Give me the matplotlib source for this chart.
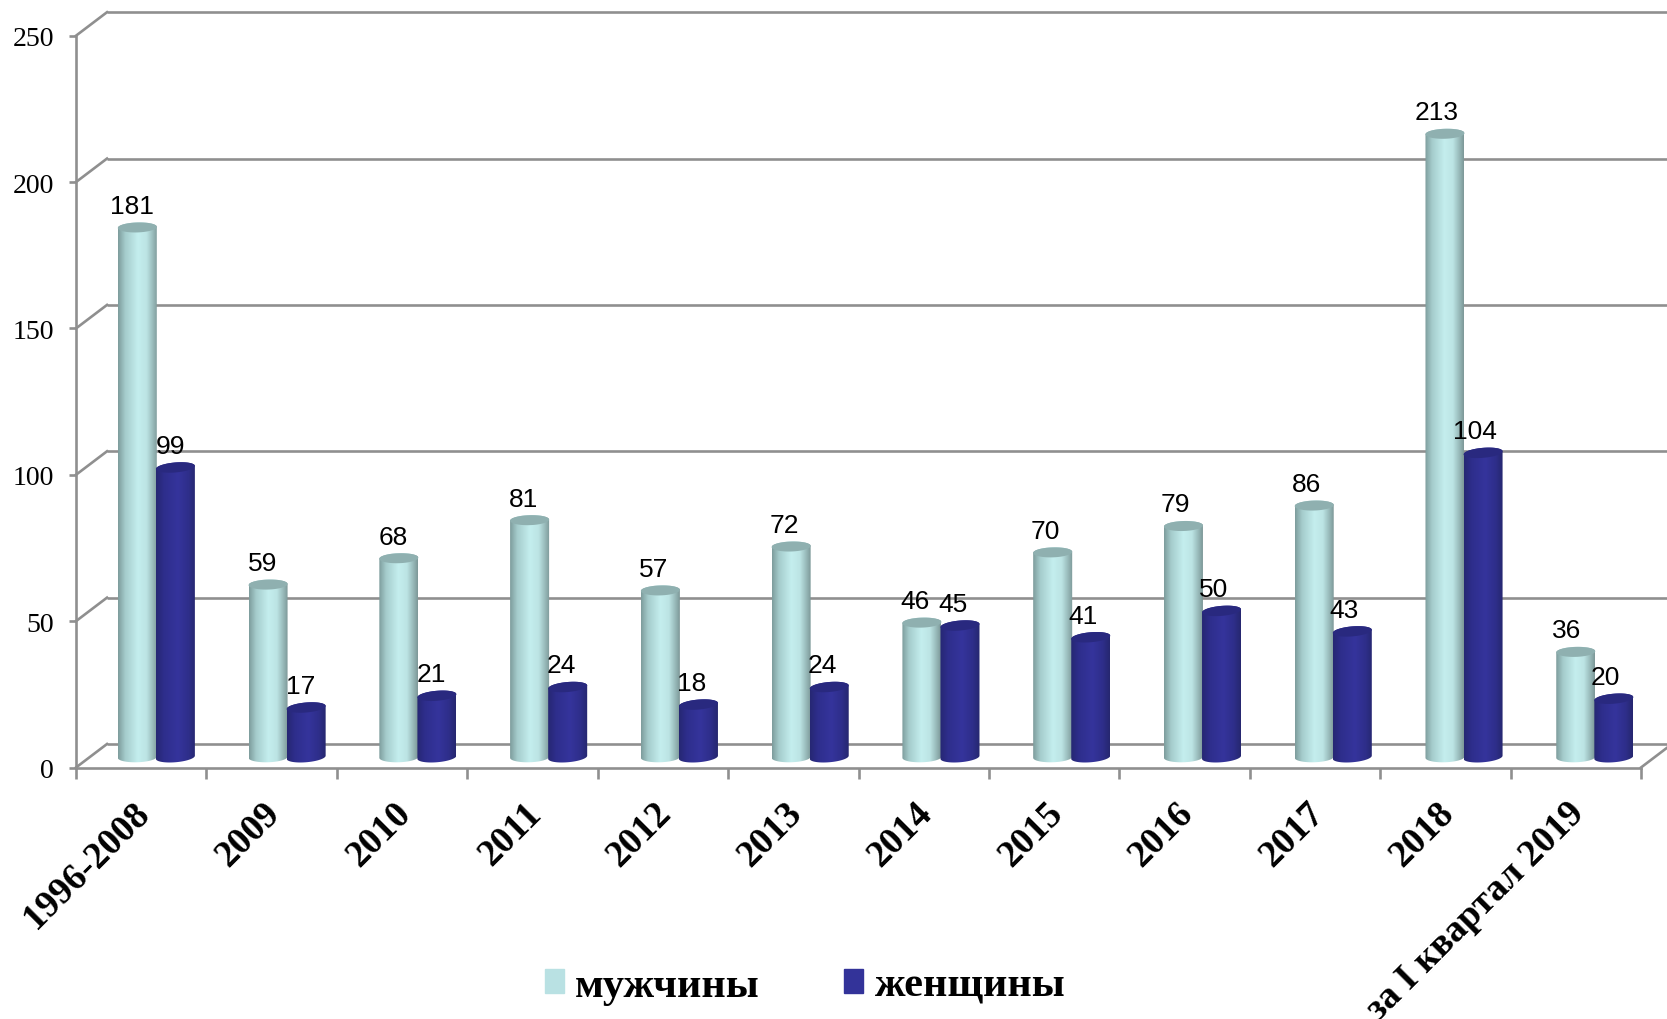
import numpy as np
import matplotlib
matplotlib.use("Agg")
import matplotlib.pyplot as plt
from matplotlib.path import Path
from matplotlib.patches import PathPatch, Patch

categories = ["1996-2008", "2009", "2010", "2011", "2012", "2013", "2014",
              "2015", "2016", "2017", "2018", "за I квартал 2019"]
men = [181, 59, 68, 81, 57, 72, 46, 70, 79, 86, 213, 36]
women = [99, 17, 21, 24, 18, 24, 45, 41, 50, 43, 104, 20]
y_ticks = [0, 50, 100, 150, 200, 250]
series_names = ["мужчины", "женщины"]

W, H = 1667, 1020
fig = plt.figure(figsize=(W / 100, H / 100), dpi=100, facecolor="white")
L, R, T, B = 76, 1641, 36.7, 768.5
ax = fig.add_axes([L / W, 1 - B / H, (R - L) / W, (B - T) / H])
px_x = 12 / (R - L)
px_y = 250 / (B - T)
GRID = "#8f8f8f"
LW = 1.9
dx, dy = 31 * px_x, 23.5 * px_y

for v in y_ticks:
    ax.plot([dx, 12 + dx], [v + dy, v + dy], color=GRID, lw=LW, clip_on=False, zorder=1,
            solid_capstyle="butt")
    ax.plot([0, dx], [v, v + dy], color=GRID, lw=LW, clip_on=False, zorder=1)
ax.plot([12, 12 + dx], [0, dy], color=GRID, lw=LW, clip_on=False, zorder=1)


def gradient(stops):
    pos = np.linspace(0, 1, 120)
    p, cols = zip(*stops)
    cols = np.array([matplotlib.colors.to_rgb(c) for c in cols])
    return np.stack([np.interp(pos, p, cols[:, i]) for i in range(3)], axis=-1)[None, :, :]


MEN_G = gradient([(0, "#7d9c9c"), (0.18, "#a5cccc"), (0.5, "#c4eeee"), (0.72, "#bce4e4"),
                  (0.92, "#8fafaf"), (1, "#7d9898")])
WOM_G = gradient([(0, "#262773"), (0.2, "#2e2e8c"), (0.55, "#35349c"), (0.82, "#2e2e8a"),
                  (1, "#26276f")])
base = 3.5
ry = 5.0 * px_y
width = 39 * px_x


def cylinder(xc, v, grad, top_color, shear, z):
    x0, x1 = xc - width / 2, xc + width / 2
    ytop = base + v
    t = np.linspace(0, np.pi, 40)
    sx = xc + width / 2 * np.cos(t)
    s = shear * (np.cos(t)) * (width / 2) * (px_y / px_x)
    up = np.sin(t) * ry + s
    lo = -np.sin(t) * ry + s
    bx = np.r_[sx[::-1], sx]
    by = np.r_[base + lo[::-1], ytop + up]
    body = PathPatch(Path(np.c_[bx, by]), transform=ax.transData, fc="none", ec="none")
    ax.add_patch(body)
    im = ax.imshow(grad, extent=[x0, x1, base - 2 * ry, ytop + 2 * ry], aspect="auto",
                   zorder=z, interpolation="bilinear")
    im.set_clip_path(body)
    cap = np.c_[np.r_[sx, sx[::-1]], np.r_[ytop + up, ytop + lo[::-1]]]
    ax.add_patch(PathPatch(Path(cap), fc=top_color, ec="none", zorder=z + 0.1))


for i, (m, f) in enumerate(zip(men, women)):
    xm, xf = 1.0027 * i + 0.47, 1.0027 * i + 0.762
    z = 3 + i
    cylinder(xm, m, MEN_G, "#8fb0b0", 0.03, z)
    cylinder(xf, f, WOM_G, "#29297f", 0.08, z + 0.3)
    for x, v in ((i + 0.47, m), (i + 0.762, f)):
        ax.annotate(str(v), (x, base + v), xytext=(-3.6, 15.5), textcoords="offset points",
                    ha="center", va="center", fontsize=19, family="Liberation Sans",
                    color="black", zorder=50, annotation_clip=False)

ax.set_xlim(0, 12)
ax.set_ylim(0, 250)
for s in ("top", "right"):
    ax.spines[s].set_visible(False)
for s in ("left", "bottom"):
    ax.spines[s].set_color(GRID)
    ax.spines[s].set_linewidth(LW)
ax.patch.set_alpha(0)
ax.set_yticks(y_ticks)
ax.set_yticklabels([str(v) for v in y_ticks], fontsize=20, family="Liberation Serif")
ax.tick_params(axis="y", length=5, width=LW, color=GRID, pad=11)
ax.set_xticks(np.arange(0, 13))
ax.set_xticklabels([])
ax.tick_params(axis="x", which="major", length=8, width=LW, color=GRID)
ax.set_xticks(np.arange(12) + 0.43, minor=True)
ax.set_xticklabels(categories, minor=True, rotation=45, ha="right", va="top",
                   rotation_mode="anchor", fontsize=27, family="Liberation Serif",
                   fontweight="bold")
ax.tick_params(axis="x", which="minor", length=0, pad=20)

handles = [Patch(color="#b9e1e3", label=series_names[0]), Patch(color="#333399", label=series_names[1])]
fig.legend(handles=handles, loc="center", bbox_to_anchor=(805 / W, 1 - 987 / H), ncol=2,
           frameon=False, prop={"family": "Liberation Serif", "weight": "bold", "size": 30.4},
           handlelength=0.45, handleheight=0.52, handletextpad=0.27, columnspacing=2.0)

fig.savefig("out.png", dpi=100, facecolor="white")
